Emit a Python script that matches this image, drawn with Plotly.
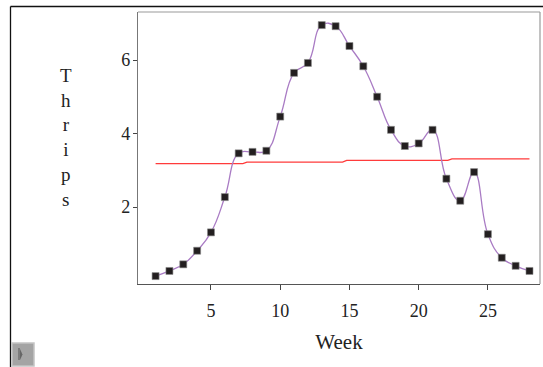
import plotly.graph_objects as go

weeks = list(range(1, 29))
thrips = [0.12, 0.26, 0.44, 0.81, 1.31, 2.27, 3.46, 3.50, 3.53, 4.46,
          5.65, 5.92, 6.95, 6.92, 6.38, 5.83, 5.00, 4.10, 3.66, 3.73,
          4.10, 2.77, 2.17, 2.95, 1.26, 0.62, 0.40, 0.26]

red_x = [1, 7.3, 7.6, 14.5, 14.8, 22.1, 22.4, 28]
red_y = [3.18, 3.18, 3.22, 3.22, 3.27, 3.27, 3.31, 3.31]

x_ticks = [5, 10, 15, 20, 25]
y_ticks = [2, 4, 6]

W, H = 543, 367
L, R, T, B = 138, 540, 12, 284

def px(x):
    return (x - L) / (R - L)

def py(y):
    return (B - y) / (B - T)

fig = go.Figure()
fig.add_trace(go.Scatter(x=red_x, y=red_y, mode="lines",
                         line=dict(color="#ff3b3b", width=1.3), hoverinfo="skip"))
fig.add_trace(go.Scatter(x=weeks, y=thrips, mode="lines",
                         line=dict(color="#a97bc4", width=1.3, shape="spline", smoothing=1.3),
                         hoverinfo="skip"))
fig.add_trace(go.Scatter(x=weeks, y=thrips, mode="markers",
                         marker=dict(symbol="square", size=7, color="#231f20",
                                     line=dict(color="#8a8a8a", width=0.6))))

font = "Liberation Serif"
tf = dict(family=font, size=18, color="#222")
btn_path = "M {a},{b} L {a},{c} L {d},{e} Z".format(
    a=px(20), b=py(349), c=py(360), d=px(22.5), e=py(354.5))
fig.update_layout(
    width=W, height=H,
    margin=dict(l=L, r=W - R, t=T, b=H - B),
    paper_bgcolor="white", plot_bgcolor="white",
    showlegend=False,
    font=dict(family=font, size=18, color="#222"),
    xaxis=dict(range=[-0.27, 28.76], tickvals=x_ticks, ticks="outside", ticklen=5,
               tickcolor="#444", showgrid=False, zeroline=False, showline=True,
               linecolor="#555", linewidth=1.2, ticklabelstandoff=5, tickfont=tf,
               title=dict(text="Week", font=dict(family=font, size=21, color="#222"), standoff=14)),
    yaxis=dict(range=[-0.095, 7.306], tickvals=y_ticks, ticks="outside", ticklen=4,
               tickcolor="#444", showgrid=False, zeroline=False, showline=True,
               linecolor="#777", linewidth=1.2, ticklabelstandoff=-1, tickfont=tf),
    shapes=[
        dict(type="line", xref="paper", yref="paper", x0=0, x1=1, y0=1, y1=1,
             line=dict(color="#9a9a9a", width=1.2)),
        dict(type="line", xref="paper", yref="paper", x0=1, x1=1, y0=0, y1=1,
             line=dict(color="#9a9a9a", width=1.2)),
        dict(type="line", xref="paper", yref="paper", x0=px(10.5), x1=px(543), y0=py(6.5), y1=py(6.5),
             line=dict(color="#111", width=1.3)),
        dict(type="line", xref="paper", yref="paper", x0=px(10.5), x1=px(10.5), y0=py(6.5), y1=py(367),
             line=dict(color="#111", width=1.3)),
        dict(type="rect", xref="paper", yref="paper", x0=px(12), x1=px(34), y0=py(366), y1=py(343),
             fillcolor="#a4a4a4", line=dict(color="#c4c4c4", width=1.5)),
        dict(type="line", xref="paper", yref="paper", x0=px(19), x1=px(19), y0=py(360), y1=py(348),
             line=dict(color="#555", width=1)),
        dict(type="path", xref="paper", yref="paper", path=btn_path,
             fillcolor="#666", line=dict(width=0)),
    ],
    annotations=[
        dict(text="T<br>h<br>r<br>i<br>p<br>s", xref="paper", yref="paper",
             x=px(66), y=py(137), xanchor="center", yanchor="middle", showarrow=False,
             font=dict(family=font, size=19, color="#222")),
    ],
)

fig.write_html("out.html", config={"displayModeBar": False},
               post_script="document.body.style.margin='0';document.body.style.overflow='hidden';")
